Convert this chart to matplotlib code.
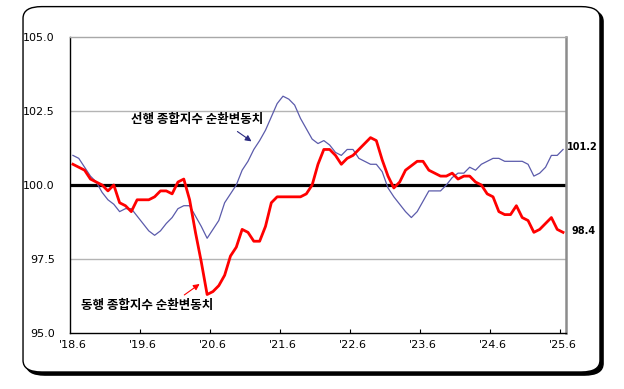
import numpy as np
import matplotlib
matplotlib.use("Agg")
import matplotlib.pyplot as plt
from matplotlib.patches import FancyBboxPatch

plt.rcParams['font.family'] = ['Noto Sans CJK KR', 'DejaVu Sans']

# monthly, 2018.6 ~ 2025.6
leading = [101.0, 100.9, 100.6, 100.3, 100.1, 99.75, 99.5, 99.35, 99.1, 99.2,
           99.2, 98.95, 98.7, 98.45, 98.3, 98.45, 98.7, 98.9, 99.2, 99.3,
           99.3, 98.95, 98.6, 98.2, 98.5, 98.8, 99.4, 99.7, 100.0, 100.5,
           100.8, 101.2, 101.5, 101.85, 102.3, 102.75, 103.0, 102.9, 102.7, 102.25,
           101.9, 101.55, 101.4, 101.5, 101.35, 101.1, 101.0, 101.2, 101.2, 100.9,
           100.8, 100.7, 100.7, 100.45, 99.9, 99.6, 99.35, 99.1, 98.9, 99.1,
           99.45, 99.8, 99.8, 99.8, 100.0, 100.25, 100.4, 100.4, 100.6, 100.5,
           100.7, 100.8, 100.9, 100.9, 100.8, 100.8, 100.8, 100.8, 100.7, 100.3,
           100.4, 100.6, 101.0, 101.0, 101.2]
coincident = [100.7, 100.6, 100.5, 100.2, 100.1, 100.0, 99.8, 100.0, 99.4, 99.3,
              99.1, 99.5, 99.5, 99.5, 99.6, 99.8, 99.8, 99.7, 100.1, 100.2,
              99.5, 98.4, 97.4, 96.3, 96.4, 96.6, 96.95, 97.6, 97.9, 98.5,
              98.4, 98.1, 98.1, 98.6, 99.4, 99.6, 99.6, 99.6, 99.6, 99.6,
              99.7, 100.0, 100.7, 101.2, 101.2, 101.0, 100.7, 100.9, 101.0, 101.2,
              101.4, 101.6, 101.5, 100.85, 100.3, 99.9, 100.1, 100.5, 100.65, 100.8,
              100.8, 100.5, 100.4, 100.3, 100.3, 100.4, 100.2, 100.3, 100.3, 100.1,
              100.0, 99.7, 99.6, 99.1, 99.0, 99.0, 99.3, 98.9, 98.8, 98.4,
              98.5, 98.7, 98.9, 98.5, 98.4]
xlabels = ["'18.6", "'19.6", "'20.6", "'21.6", "'22.6", "'23.6", "'24.6", "'25.6"]
yticks = [95.0, 97.5, 100.0, 102.5, 105.0]

n = len(leading)
x = np.arange(n) + 0.5

fig = plt.figure(figsize=(6.24, 3.89), dpi=100)

# rounded frame with shadow
shadow = FancyBboxPatch((0.0369 + 0.005, 0.0437 - 0.008), 0.9246, 0.9393,
                        boxstyle="round,pad=0,rounding_size=0.03",
                        transform=fig.transFigure, facecolor='black',
                        edgecolor='black', zorder=-2)
frame = FancyBboxPatch((0.0369, 0.0437), 0.9246, 0.9393,
                       boxstyle="round,pad=0,rounding_size=0.03",
                       transform=fig.transFigure, facecolor='white',
                       edgecolor='black', lw=1.0, zorder=-1)
fig.patches.extend([shadow, frame])

ax = fig.add_axes([0.1122, 0.144, 0.7948, 0.7609])
ax.set_facecolor('none')

for v in [97.5, 102.5]:
    ax.axhline(v, color='#b4b4b4', lw=1.0, zorder=1)
ax.axhline(100.0, color='black', lw=2.3, zorder=2)

ax.plot(x, leading, color='#5b5bab', lw=0.9, zorder=3)
ax.plot(x, coincident, color='#ff0000', lw=2.0, zorder=4)

ax.set_xlim(0, 85)
ax.set_ylim(95, 105)
ax.set_yticks(yticks)
ax.set_yticklabels([f"{v:.1f}" for v in yticks], fontsize=8, family='DejaVu Sans')
ax.tick_params(axis='y', length=0, pad=11)

ax.set_xticks(np.arange(0, 85, 12) + 0.5)
ax.set_xticklabels(xlabels, fontsize=8, family='DejaVu Sans')
ax.set_xticks(np.arange(12, 85, 12), minor=True)
ax.tick_params(axis='x', which='major', length=0, pad=5)
ax.tick_params(axis='x', which='minor', length=3, direction='in', width=0.8)

for s in ['left', 'bottom']:
    ax.spines[s].set_color('black')
    ax.spines[s].set_linewidth(1.0)
ax.spines['top'].set_color('#a8a8a8')
ax.spines['top'].set_linewidth(1.0)
ax.spines['right'].set_color('#8c8c8c')
ax.spines['right'].set_linewidth(1.8)

ax.text(21.8, 102.2, "선행 종합지수 순환변동치", fontsize=9, fontweight='bold',
        ha='center', va='center')
ax.annotate("", xy=(31.5, 101.42), xytext=(28.3, 101.86),
            arrowprops=dict(arrowstyle='-|>', color='#2a2a80', lw=0.8,
                            mutation_scale=9))
ax.text(13.2, 95.93, "동행 종합지수 순환변동치", fontsize=9, fontweight='bold',
        ha='center', va='center')
ax.annotate("", xy=(22.6, 96.71), xytext=(19.2, 96.23),
            arrowprops=dict(arrowstyle='-|>', color='#ff0000', lw=0.8,
                            mutation_scale=9))

ax.text(85.2, leading[-1] + 0.07, f"{leading[-1]:.1f}", fontsize=7,
        fontweight='bold', family='DejaVu Sans', ha='left', va='center',
        clip_on=False)
ax.text(86.0, coincident[-1] + 0.03, f"{coincident[-1]:.1f}", fontsize=7,
        fontweight='bold', family='DejaVu Sans', ha='left', va='center',
        clip_on=False)

fig.savefig("out.png", dpi=100)
